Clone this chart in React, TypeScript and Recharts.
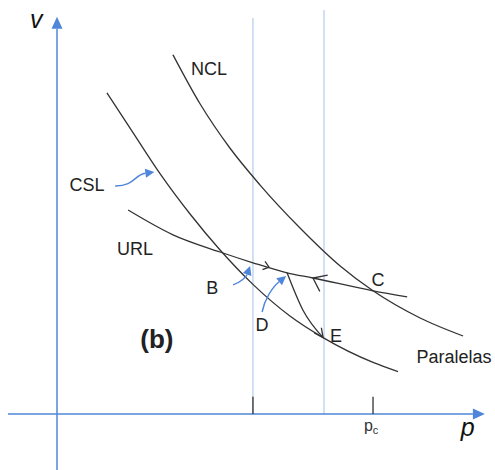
import React from 'react'
import { ComposedChart, Line, XAxis, YAxis, ReferenceLine, ReferenceDot } from 'recharts'

const W = 495
const H = 470

// plot window, in (p, v) units
const P_DOMAIN: [number, number] = [-18.04, 138.6]
const V_DOMAIN: [number, number] = [-14, 103.5]

// normal compression line
const NCL_P = [36.7, 45.3, 54.7, 64.2, 76.9, 89.6, 100, 114.9, 128.5]
const NCL_V = [89.8, 77.5, 66.5, 57.3, 46.5, 37.0, 30.8, 24.0, 19.5]

// critical state line
const CSL_P = [15.8, 24.1, 32.6, 42.1, 51.6, 62.0, 73.7, 84.2, 100, 107.9]
const CSL_V = [80.3, 70.3, 60.1, 50.0, 41.0, 32.4, 24.5, 19.1, 12.9, 10.6]

// unloading-reloading line
const URL_P = [22.5, 36.7, 51.6, 62.0, 72.8, 81.0, 100, 110.8]
const URL_V = [51.0, 44.8, 40.5, 37.8, 35.3, 34.0, 30.8, 29.3]

// undrained path D -> E
const DE_P = [72.8, 77.8, 84.2]
const DE_V = [35.3, 26.0, 19.1]

const P_C = 100
const P_B = 62
const P_E = 84.5

const AXIS = '#4f86d9'
const GUIDE = '#c4d6f1'
const INK = '#333333'
const FONT = '"Liberation Sans", Arial, sans-serif'

const zip = (ps: number[], vs: number[]) => ps.map((p, i) => ({ p, v: vs[i] }))

// straight line ending in a filled arrowhead
const axisArrow = (props: any) => {
  const { x1, y1, x2, y2 } = props
  const dx = x2 - x1
  const dy = y2 - y1
  const len = Math.hypot(dx, dy)
  const ux = dx / len
  const uy = dy / len
  const hl = 12
  const hw = 5.5
  const bx = x2 - ux * hl
  const by = y2 - uy * hl
  return (
    <g>
      <line x1={x1} y1={y1} x2={bx} y2={by} stroke={AXIS} strokeWidth={1.5} />
      <polygon
        points={`${x2},${y2} ${bx - uy * hw},${by + ux * hw} ${bx + uy * hw},${by - ux * hw}`}
        fill={AXIS}
      />
    </g>
  )
}

// curved blue pointer; controls given along / across the start->end vector
const pointer = (c1: [number, number], c2: [number, number]) => (props: any) => {
  const { x1, y1, x2, y2 } = props
  const dx = x2 - x1
  const dy = y2 - y1
  const nx = -dy
  const ny = dx
  const ax = x1 + c1[0] * dx + c1[1] * nx
  const ay = y1 + c1[0] * dy + c1[1] * ny
  const bx = x1 + c2[0] * dx + c2[1] * nx
  const by = y1 + c2[0] * dy + c2[1] * ny
  const tl = Math.hypot(x2 - bx, y2 - by)
  const ux = (x2 - bx) / tl
  const uy = (y2 - by) / tl
  const hl = 9
  const hw = 4.5
  const ex = x2 - ux * hl
  const ey = y2 - uy * hl
  return (
    <g>
      <path d={`M${x1},${y1} C${ax},${ay} ${bx},${by} ${ex},${ey}`} fill="none" stroke={AXIS} strokeWidth={1.4} />
      <polygon
        points={`${x2},${y2} ${ex - uy * hw},${ey + ux * hw} ${ex + uy * hw},${ey - ux * hw}`}
        fill={AXIS}
      />
    </g>
  )
}

// open arrowhead drawn at a point on a curve
const chevron = (angle: number, half: number, size: number) => (props: any) => {
  const { cx, cy } = props
  const a = (angle - half) * Math.PI / 180
  const b = (angle + half) * Math.PI / 180
  return (
    <path
      d={`M${cx + size * Math.cos(a)},${cy + size * Math.sin(a)} L${cx},${cy} L${cx + size * Math.cos(b)},${cy + size * Math.sin(b)}`}
      fill="none"
      stroke={INK}
      strokeWidth={1.3}
    />
  )
}

const label = (text: string, size = 18, weight = 'normal') => (props: any) => (
  <text
    x={props.cx}
    y={props.cy}
    textAnchor="middle"
    dominantBaseline="central"
    fontFamily={FONT}
    fontSize={size}
    fontWeight={weight}
    fill="#222"
  >
    {text}
  </text>
)

const axisName = (text: string) => (props: any) => (
  <text x={props.cx} y={props.cy} textAnchor="middle" fontFamily={FONT} fontSize={25} fontStyle="italic" fill="#111">
    {text}
  </text>
)

const pcLabel = (props: any) => (
  <text x={props.cx} y={props.cy} textAnchor="middle" fontFamily={FONT} fontSize={16} fill="#333">
    p
    <tspan fontSize={11} dy={3}>c</tspan>
  </text>
)

const LABELS: { p: number; v: number; text: string }[] = [
  { p: 48.1, v: 86.3, text: 'NCL' },
  { p: 9.5, v: 57.3, text: 'CSL' },
  { p: 24.7, v: 41.3, text: 'URL' },
  { p: 49.1, v: 31.5, text: 'B' },
  { p: 64.9, v: 22.3, text: 'D' },
  { p: 88.3, v: 19.5, text: 'E' },
  { p: 101.6, v: 33.5, text: 'C' },
  { p: 125.6, v: 14.3, text: 'Paralelas' },
]

export default function App() {
  return (
    <div style={{ position: 'absolute', left: 0, top: 0, width: W, height: H, background: '#fff' }}>
      <ComposedChart width={W} height={H} margin={{ top: 0, right: 0, bottom: 0, left: 0 }}>
        <XAxis type="number" dataKey="p" domain={P_DOMAIN} allowDataOverflow hide />
        <YAxis type="number" dataKey="v" domain={V_DOMAIN} allowDataOverflow hide />

        {/* guides at the two mean stresses */}
        <ReferenceLine segment={[{ x: P_B, y: 0 }, { x: P_B, y: 99 }]} stroke={GUIDE} strokeWidth={1.5} />
        <ReferenceLine segment={[{ x: P_E, y: 0 }, { x: P_E, y: 101 }]} stroke={GUIDE} strokeWidth={1.5} />

        {/* axes */}
        <ReferenceLine segment={[{ x: -15.5, y: 0 }, { x: 135.4, y: 0 }]} shape={axisArrow} />
        <ReferenceLine segment={[{ x: 0, y: -14 }, { x: 0, y: 99.3 }]} shape={axisArrow} />
        <ReferenceLine segment={[{ x: P_B, y: 0 }, { x: P_B, y: 4.3 }]} stroke={INK} strokeWidth={1.3} />
        <ReferenceLine segment={[{ x: P_C, y: 0 }, { x: P_C, y: 4.3 }]} stroke={INK} strokeWidth={1.3} />

        <Line data={zip(NCL_P, NCL_V)} dataKey="v" type="monotone" stroke={INK} strokeWidth={1.3} dot={false} activeDot={false} isAnimationActive={false} />
        <Line data={zip(CSL_P, CSL_V)} dataKey="v" type="monotone" stroke={INK} strokeWidth={1.3} dot={false} activeDot={false} isAnimationActive={false} />
        <Line data={zip(URL_P, URL_V)} dataKey="v" type="monotone" stroke={INK} strokeWidth={1.3} dot={false} activeDot={false} isAnimationActive={false} />
        <Line data={zip(DE_P, DE_V)} dataKey="v" type="monotone" stroke={INK} strokeWidth={1.3} dot={false} activeDot={false} isAnimationActive={false} />

        {/* direction marks on the paths */}
        <ReferenceDot x={67.1} y={36.7} r={0} shape={chevron(197, 38, 7)} />
        <ReferenceDot x={81.0} y={34.0} r={0} shape={chevron(26, 37, 15)} />
        <ReferenceDot x={84.2} y={19.1} r={0} shape={chevron(234, 26, 10)} />

        {/* blue pointers */}
        <ReferenceLine segment={[{ x: 18.4, y: 57 }, { x: 30.8, y: 60.5 }]} shape={pointer([0.44, 0.16], [0.52, -0.1])} />
        <ReferenceLine segment={[{ x: 55.7, y: 32.3 }, { x: 61.1, y: 37 }]} shape={pointer([0.27, 0.17], [0.6, 0.17])} />
        <ReferenceLine segment={[{ x: 64.9, y: 25.5 }, { x: 72.5, y: 34.5 }]} shape={pointer([0.28, -0.12], [0.61, -0.12])} />

        {LABELS.map((l) => (
          <ReferenceDot key={l.text} x={l.p} y={l.v} r={0} shape={label(l.text)} />
        ))}
        <ReferenceDot x={31.6} y={18.8} r={0} shape={label('(b)', 26, 'bold')} />
        <ReferenceDot x={-6.6} y={96.5} r={0} shape={axisName('v')} />
        <ReferenceDot x={130} y={-5.5} r={0} shape={axisName('p')} />
        <ReferenceDot x={99.4} y={-4.3} r={0} shape={pcLabel} />
      </ComposedChart>
    </div>
  )
}
